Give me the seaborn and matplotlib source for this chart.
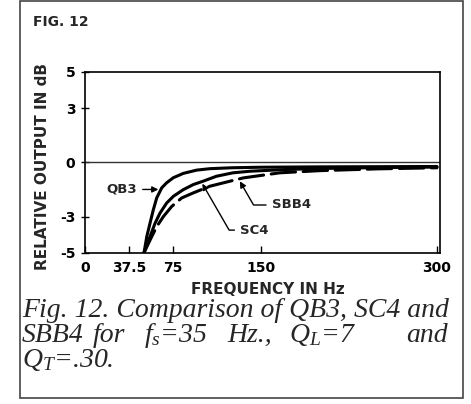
import numpy as np
import pandas as pd
import seaborn as sns
import matplotlib.pyplot as plt
from matplotlib.patches import Rectangle

sns.set_style("ticks")
plt.rcParams["font.family"] = ["DejaVu Sans"]
plt.rcParams["mathtext.fontset"] = "custom"
plt.rcParams["mathtext.it"] = "Liberation Serif:italic"
plt.rcParams["mathtext.rm"] = "Liberation Serif:italic"

# curves (Hz, dB)
qb3_freq = [50.3, 52.6, 55.4, 58.2, 61.1, 65.4, 69.6, 75.3, 83.8, 95.2, 106.5, 125, 150, 200, 250, 300]
qb3_db = [-5.0, -4.12, -3.37, -2.63, -1.97, -1.41, -1.13, -0.85, -0.61, -0.43, -0.35, -0.3, -0.27, -0.25, -0.24, -0.23]

sc4_freq = [50.3, 55.4, 59.7, 63.9, 69.6, 75.3, 83.8, 92.3, 100.8, 112, 126, 141, 170, 200, 250, 300]
sc4_db = [-5.0, -4.11, -3.37, -2.81, -2.25, -1.88, -1.51, -1.23, -1.04, -0.77, -0.58, -0.49, -0.4, -0.34, -0.29, -0.26]

sbb4_freq = [50.3, 56.8, 61.1, 66.8, 73.9, 82.4, 92.3, 106.5, 129.3, 135, 166, 200, 250, 300]
sbb4_db = [-5.0, -4.12, -3.56, -3.0, -2.44, -1.97, -1.69, -1.32, -0.95, -0.86, -0.58, -0.46, -0.36, -0.3]

x_ticks = [0, 37.5, 75, 150, 300]
x_tick_labels = ["0", "37.5", "75", "150", "300"]
y_ticks = [5, 3, 0, -3, -5]
y_tick_labels = ["5", "3", "0", "-3", "-5"]

df = pd.concat([
    pd.DataFrame({"freq": qb3_freq, "db": qb3_db, "curve": "QB3"}),
    pd.DataFrame({"freq": sc4_freq, "db": sc4_db, "curve": "SC4"}),
    pd.DataFrame({"freq": sbb4_freq, "db": sbb4_db, "curve": "SBB4"}),
])

fig = plt.figure(figsize=(4.71, 4.04), dpi=100)
ax = fig.add_axes([0.1805, 0.3745, 0.7537, 0.4473])

ax.axhline(0, color="#333333", lw=1.0, zorder=1)
sns.lineplot(data=df, x="freq", y="db", style="curve",
             dashes={"QB3": "", "SC4": "", "SBB4": (8, 2.5)},
             color="black", lw=2.2, legend=False, sort=False,
             estimator=None, ax=ax)
for ln in ax.lines:
    ln.set_solid_capstyle("round")
    ln.set_dash_capstyle("round")
    ln.set_solid_joinstyle("round")

ax.set_xlim(0, 302.6)
ax.set_ylim(-5, 5)
ax.set_xticks(x_ticks)
ax.set_xticklabels(x_tick_labels)
ax.set_yticks(y_ticks)
ax.set_yticklabels(y_tick_labels)
ax.set_xlabel("")
ax.set_ylabel("")
ax.tick_params(axis="x", direction="in", length=5, width=1, pad=6,
               labelsize=10, colors="black")
ax.tick_params(axis="y", direction="inout", length=6, width=1, pad=4,
               labelsize=10, colors="black")
for lab in ax.get_xticklabels() + ax.get_yticklabels():
    lab.set_fontweight("bold")
for sp in ax.spines.values():
    sp.set_visible(True)
    sp.set_color("black")
    sp.set_linewidth(1.2)

arrow = dict(arrowstyle="-|>", color="black", lw=1.0, mutation_scale=9,
             shrinkA=2, shrinkB=0)
ax.annotate("QB3", xy=(62.5, -1.5), xytext=(31, -1.5), ha="center",
            va="center", fontsize=9.5, fontweight="bold", arrowprops=arrow)
ax.annotate("SC4", xy=(100, -1.18), xytext=(132.5, -3.75), ha="left",
            va="center", fontsize=9.5, fontweight="bold",
            arrowprops=dict(arrow, connectionstyle="angle,angleA=0,angleB=120,rad=0"))
ax.annotate("SBB4", xy=(132, -1.05), xytext=(159.5, -2.36), ha="left",
            va="center", fontsize=9.5, fontweight="bold",
            arrowprops=dict(arrow, connectionstyle="angle,angleA=0,angleB=120,rad=0"))

W, H = 471, 404
fig.text(33 / W, 1 - 22 / H, "FIG. 12", fontsize=10, fontweight="bold",
         ha="left", va="center")
fig.text(268 / W, 1 - 290 / H, "FREQUENCY IN Hz", fontsize=11,
         fontweight="bold", ha="center", va="center")
fig.text(43 / W, 1 - 167 / H, "RELATIVE OUTPUT IN dB", fontsize=11,
         fontweight="bold", ha="center", va="center", rotation=90)

cap = dict(fontsize=20, style="italic", family="Liberation Serif",
           va="baseline")
fig.text(22 / W, 1 - 317 / H, "Fig. 12. Comparison of QB3, SC4 and",
         ha="left", **cap)
fig.text(22 / W, 1 - 342 / H, "SBB4", ha="left", **cap)
for word, px in [("for", 109), ("$f_s$=35", 176), ("Hz.,", 250),
                 ("$Q_L$=7", 323)]:
    fig.text(px / W, 1 - 342 / H, word, ha="center", **cap)
fig.text(448 / W, 1 - 342 / H, "and", ha="right", **cap)
fig.text(22 / W, 1 - 367 / H, "$Q_T$=.30.", ha="left", **cap)

fig.add_artist(Rectangle((20 / W, 1 - 398 / H), 443 / W, 397 / H,
                         transform=fig.transFigure, fill=False,
                         ec="#444444", lw=1.2))

fig.savefig("out.png", dpi=100, facecolor="white")
